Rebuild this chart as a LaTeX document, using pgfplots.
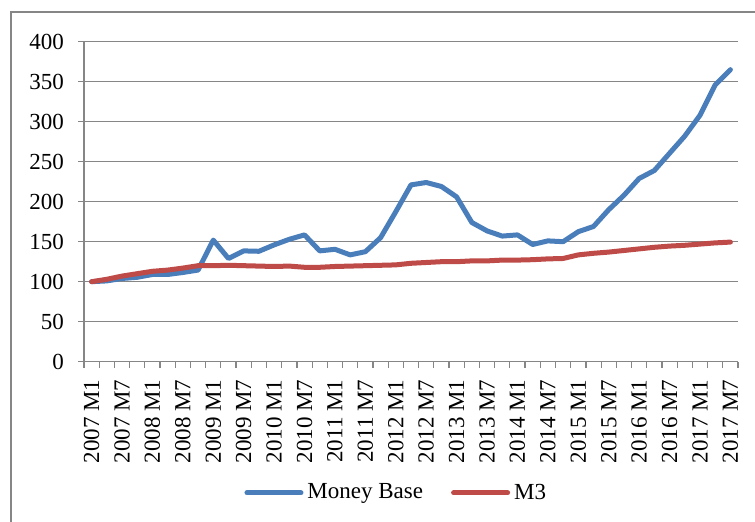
\documentclass[border=0pt]{standalone}
\usepackage{pgfplots}
\pgfplotsset{compat=1.18}
\usepackage{pgfplotstable}
\usepackage{fontspec}
\setmainfont{Liberation Serif}
\definecolor{mbblue}{HTML}{4A7EBB}
\definecolor{mthree}{HTML}{BE4B48}
\definecolor{gridgray}{HTML}{868686}

\pgfplotstableread{
i mb m3
0 100 100
1 101 103
2 104 107
3 105.5 110
4 109 113
5 109 114.5
6 111.5 117
7 114.5 120
8 152 120
9 129 120.5
10 138.5 120
11 138 119.5
12 146 119
13 153 119.5
14 158.5 118
15 138.5 118
16 140.5 119
17 133.5 119.5
18 137.5 120
19 155 120.5
20 187.5 121
21 221 123
22 224 124
23 219 125
24 206 125
25 174 126
26 163.5 126
27 157 127
28 158.5 127
29 146.5 127.5
30 151 128.5
31 150 129
32 162.5 133.5
33 169 135.5
34 190 137
35 208 139
36 229 141
37 239 143
38 260.5 144.5
39 282 145.5
40 308 147
41 346 148.5
42 365 149.5
}\datatable

\begin{document}
\begin{tikzpicture}
\useasboundingbox (0,0) rectangle (377.5pt,261pt);
\draw[gridgray, line width=0.6pt] (5.5pt,0) -- (5.5pt,255pt) -- (377.5pt,255pt);
\begin{axis}[
  at={(42pt,80.15pt)}, anchor=south west,
  scale only axis, width=327pt, height=160pt,
  font=\fontsize{11.5}{13}\selectfont,
  /pgf/number format/assume math mode=true,
  xmin=-0.5, xmax=42.5, ymin=0, ymax=400,
  ytick={0,50,...,400},
  xtick={0,2,...,42},
  xticklabels={2007 M1,2007 M7,2008 M1,2008 M7,2009 M1,2009 M7,2010 M1,2010 M7,2011 M1,2011 M7,2012 M1,2012 M7,2013 M1,2013 M7,2014 M1,2014 M7,2015 M1,2015 M7,2016 M1,2016 M7,2017 M1,2017 M7},
  minor xtick={-0.5,0.5,...,42.5},
  xtick style={draw=none},
  minor x tick style={draw=gridgray, line width=0.6pt},
  major x tick style={draw=none},
  minor tick length=3pt,
  major tick length=3pt,
  tick align=outside,
  ytick style={draw=gridgray, line width=0.6pt},
  xticklabel style={rotate=90, anchor=east},
  xticklabel shift=2.5pt,
  yticklabel shift=3.5pt,
  ymajorgrids,
  grid style={gridgray, line width=0.75pt},
  axis x line*=bottom, axis y line*=left,
  axis line style={gridgray, line width=0.75pt, -},
  legend columns=2,
  legend style={at={(0.479,-0.41)}, anchor=center, draw=none, fill=none,
    /tikz/every even column/.append style={column sep=12pt},
    font=\fontsize{11.5}{13}\selectfont},
  legend image code/.code={\draw[#1, line width=2.5pt, line cap=round] (0pt,0pt) -- (27pt,0pt);},
]
\addplot[mbblue, line width=2.5pt, line join=round, line cap=round] table[x=i, y=mb] {\datatable};
\addlegendentry{Money Base}
\addplot[mthree, line width=2.5pt, line join=round, line cap=round] table[x=i, y=m3] {\datatable};
\addlegendentry{M3}
\end{axis}
\end{tikzpicture}
\end{document}
